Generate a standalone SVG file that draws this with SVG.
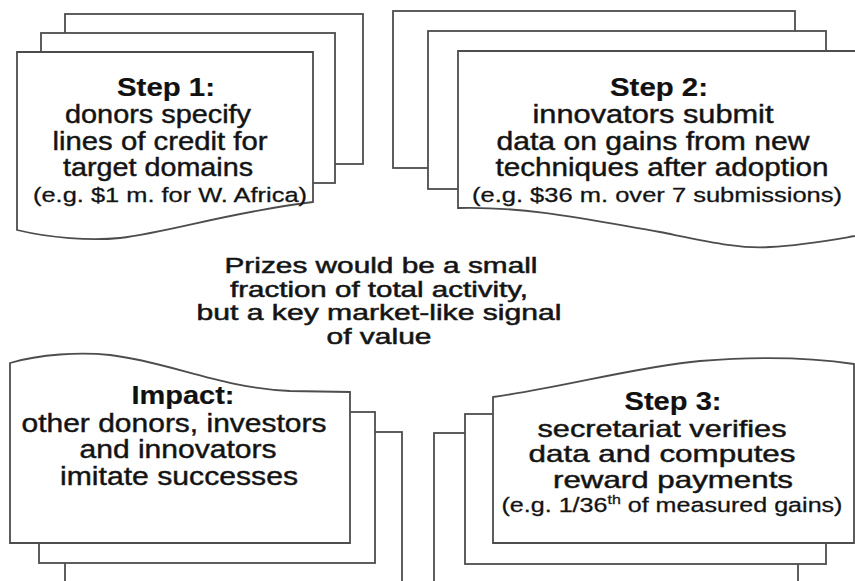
<svg xmlns="http://www.w3.org/2000/svg" width="855" height="581" viewBox="0 0 855 581">
  <style>
    .sh { fill: #ffffff; stroke: #4d4d4d; stroke-width: 1.8; stroke-linejoin: miter; }
    .t { font-family: "Liberation Sans", Arial, sans-serif; fill: #111111; stroke: #222222; stroke-width: 0.45; text-anchor: middle; }
    .title { font-size: 26px; font-weight: bold; stroke-width: 0.2; }
    .body { font-size: 25px; }
    .body2 { font-size: 24px; stroke-width: 0.5; }
    .note { font-size: 22.5px; stroke-width: 0.55; }
    .small { font-size: 20.5px; stroke-width: 0.3; }
  </style>
  <rect x="0" y="0" width="855" height="581" fill="#ffffff"/>

  <g id="step1">
    <rect class="sh" x="65" y="14" width="298" height="150"/>
    <rect class="sh" x="41" y="33" width="294" height="150"/>
    <path class="sh" d="M17,52 H313 V202 C 230,212 170,232 120,238 C 90,241 50,238 17,230 Z"/>
    <text class="t title" x="166" y="96" textLength="98" lengthAdjust="spacingAndGlyphs">Step 1:</text>
    <text class="t body" x="158" y="123" textLength="186" lengthAdjust="spacingAndGlyphs">donors specify</text>
    <text class="t body" x="160" y="150" textLength="215" lengthAdjust="spacingAndGlyphs">lines of credit for</text>
    <text class="t body" x="158" y="176" textLength="190" lengthAdjust="spacingAndGlyphs">target domains</text>
    <text class="t small" x="170" y="202" textLength="274" lengthAdjust="spacingAndGlyphs">(e.g. $1 m. for W. Africa)</text>
  </g>

  <g id="step2">
    <rect class="sh" x="393" y="11" width="402" height="157"/>
    <rect class="sh" x="428" y="31" width="398" height="158"/>
    <path class="sh" d="M458,51 H880 V232 C 840,238 810,245 770,247 C 740,249 710,242 660,232 C 600,222 530,206 458,208 Z"/>
    <text class="t title" x="659" y="96" textLength="98" lengthAdjust="spacingAndGlyphs">Step 2:</text>
    <text class="t body" x="653" y="123" textLength="241" lengthAdjust="spacingAndGlyphs">innovators submit</text>
    <text class="t body" x="653" y="150" textLength="313" lengthAdjust="spacingAndGlyphs">data on gains from new</text>
    <text class="t body" x="662" y="176" textLength="333" lengthAdjust="spacingAndGlyphs">techniques after adoption</text>
    <text class="t small" x="657" y="202" textLength="370" lengthAdjust="spacingAndGlyphs">(e.g. $36 m. over 7 submissions)</text>
  </g>

  <g id="impact">
    <rect class="sh" x="65" y="432" width="337" height="200"/>
    <rect class="sh" x="39" y="412" width="336" height="151"/>
    <path class="sh" d="M10,543 V363 C 40,354 80,352 110,355 C 170,362 220,388 290,391 L350,392 V543 Z"/>
    <text class="t title" x="183" y="404" textLength="103" lengthAdjust="spacingAndGlyphs">Impact:</text>
    <text class="t body" x="174" y="432" textLength="305" lengthAdjust="spacingAndGlyphs">other donors, investors</text>
    <text class="t body" x="178" y="458" textLength="197" lengthAdjust="spacingAndGlyphs">and innovators</text>
    <text class="t body" x="179" y="485" textLength="238" lengthAdjust="spacingAndGlyphs">imitate successes</text>
  </g>

  <g id="step3">
    <rect class="sh" x="434" y="433" width="364" height="200"/>
    <rect class="sh" x="465" y="414" width="361" height="150"/>
    <path class="sh" d="M493,543 V397 C 560,388 640,366 700,361 C 750,357 800,356 854,364 V543 Z"/>
    <text class="t title" x="673" y="410" textLength="97" lengthAdjust="spacingAndGlyphs">Step 3:</text>
    <text class="t body2" x="662" y="436.5" textLength="249" lengthAdjust="spacingAndGlyphs">secretariat verifies</text>
    <text class="t body2" x="662" y="462" textLength="267" lengthAdjust="spacingAndGlyphs">data and computes</text>
    <text class="t body2" x="673" y="487.5" textLength="240" lengthAdjust="spacingAndGlyphs">reward payments</text>
    <text class="t small" x="672" y="512" textLength="341" lengthAdjust="spacingAndGlyphs">(e.g. 1/36<tspan font-size="13" dy="-8">th</tspan><tspan dy="8"> of measured gains)</tspan></text>
  </g>

  <g id="prizes-note">
    <text class="t note" x="381" y="273" textLength="313" lengthAdjust="spacingAndGlyphs">Prizes would be a small</text>
    <text class="t note" x="379" y="296.5" textLength="298" lengthAdjust="spacingAndGlyphs">fraction of total activity,</text>
    <text class="t note" x="379" y="320" textLength="365" lengthAdjust="spacingAndGlyphs">but a key market-like signal</text>
    <text class="t note" x="379" y="343.5" textLength="105" lengthAdjust="spacingAndGlyphs">of value</text>
  </g>

  <g id="connectors"/>
</svg>
